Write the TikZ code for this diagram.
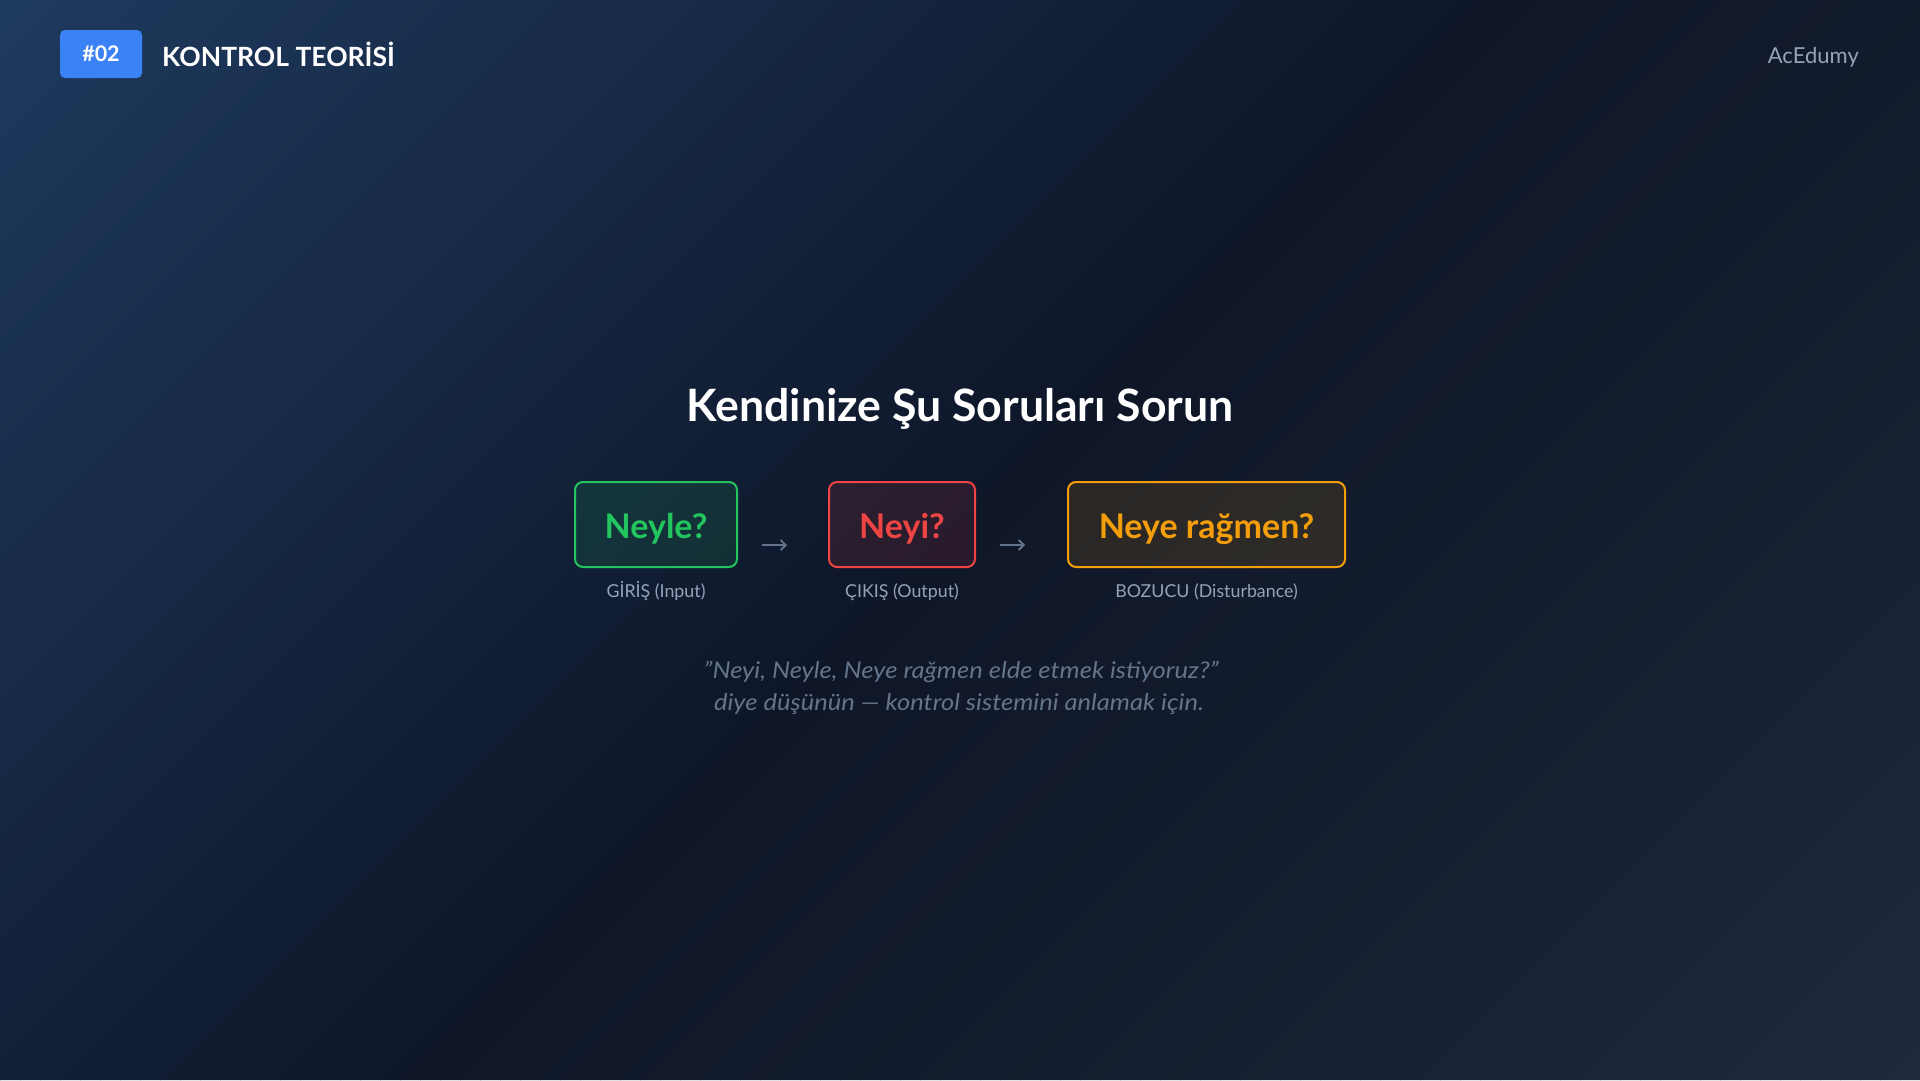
\documentclass[tikz,border=0pt]{standalone}
\usepackage{fontspec}
\setmainfont{Lato}
\usetikzlibrary{arrows.meta}
\definecolor{bgA}{HTML}{1E3A5F}
\definecolor{bgB}{HTML}{0E1628}
\definecolor{bgC}{HTML}{1E293B}
\definecolor{badgeblue}{HTML}{3B82F6}
\definecolor{slatefour}{HTML}{94A3B8}
\definecolor{slatefive}{HTML}{64748B}
\definecolor{qgreen}{HTML}{22C55E}
\definecolor{qred}{HTML}{EF4444}
\definecolor{qorange}{HTML}{F59E0B}
\tikzset{
  qbox/.style={draw=#1, fill=#1, fill opacity=0.12, draw opacity=1, text opacity=1,
    line width=2pt, rounded corners=8pt, text=#1, inner sep=0pt,
    font=\bfseries\fontsize{34}{40}\selectfont, minimum height=85pt,
    text height=28.5pt, text depth=0pt},
  sublabel/.style={anchor=base, inner sep=0pt, text=slatefour, font=\fontsize{17.8}{21}\selectfont},
  quoteline/.style={anchor=base, inner sep=0pt, text=slatefive,
    font=\itshape\fontsize{23}{32}\selectfont\addfontfeature{FakeStretch=1.11}},
  flowarrow/.style={draw=slatefive, line width=1.8pt, -{Straight Barb[length=5pt,width=10pt]}}
}
\begin{document}
\begin{tikzpicture}[x=1pt,y=-1pt]
\useasboundingbox (0,0) rectangle (1920,1080);
% background: 135deg gradient, t = (x+y)/3000
\begin{scope}
\clip (0,0) rectangle (1920,1080);
\foreach \i in {0,...,149} {
  \pgfmathsetmacro\uA{\i*20}
  \pgfmathsetmacro\uB{\i*20+21}
  \pgfmathsetmacro\tval{(\i*20+10)/3000}
  \pgfmathsetmacro\pval{\tval<0.5 ? \tval*200 : (\tval-0.5)*200}
  \ifdim\tval pt<0.5pt \colorlet{bandc}{bgB!\pval!bgA}\else\colorlet{bandc}{bgC!\pval!bgB}\fi
  \fill[bandc] (\uA,0) -- (\uB,0) -- (\uB-1080,1080) -- (\uA-1080,1080) -- cycle;
}
\end{scope}

% header
\node[fill=badgeblue, rounded corners=5pt, minimum width=82pt, minimum height=48pt, inner sep=0pt,
      text=white, font=\bfseries\fontsize{21.5}{25}\selectfont, text height=15pt, text depth=0pt] (badge) at (101,54) {\#02};
\node[anchor=base west, inner sep=0pt, text=white, font=\bfseries\fontsize{26.5}{32}\selectfont] (hdr) at (162,66) {KONTROL TEORİSİ};
\node[anchor=base east, inner sep=0pt, text=slatefour, font=\fontsize{22}{26}\selectfont] (brand) at (1859,63) {AcEdumy};

% title
\node[anchor=base, inner sep=0pt, text=white, font=\bfseries\fontsize{44.6}{52}\selectfont] (title) at (960,421) {Kendinize Şu Soruları Sorun};

% boxes
\node[qbox=qgreen, minimum width=162pt] (b1) at (656,524.5) {Neyle?};
\node[qbox=qred, minimum width=146pt] (b2) at (902,524.5) {Neyi?};
\node[qbox=qorange, minimum width=277pt] (b3) at (1206.5,524.5) {Neye rağmen?};

% arrows
\coordinate (a1s) at (762,545);
\coordinate (a1e) at (787,545);
\coordinate (a2s) at (1000,545);
\coordinate (a2e) at (1025,545);
\draw[flowarrow] (a1s) -- (a1e);
\draw[flowarrow] (a2s) -- (a2e);

% labels
\node[sublabel] (l1) at (656,597) {GİRİŞ (Input)};
\node[sublabel] (l2) at (902,597) {ÇIKIŞ (Output)};
\node[sublabel] (l3) at (1206.5,597) {BOZUCU (Disturbance)};

% quote
\node[quoteline] (q1) at (961,678) {"Neyi, Neyle, Neye rağmen elde etmek istiyoruz?"};
\node[quoteline] (q2) at (959,710) {diye düşünün — kontrol sistemini anlamak için.};
\end{tikzpicture}
\end{document}
